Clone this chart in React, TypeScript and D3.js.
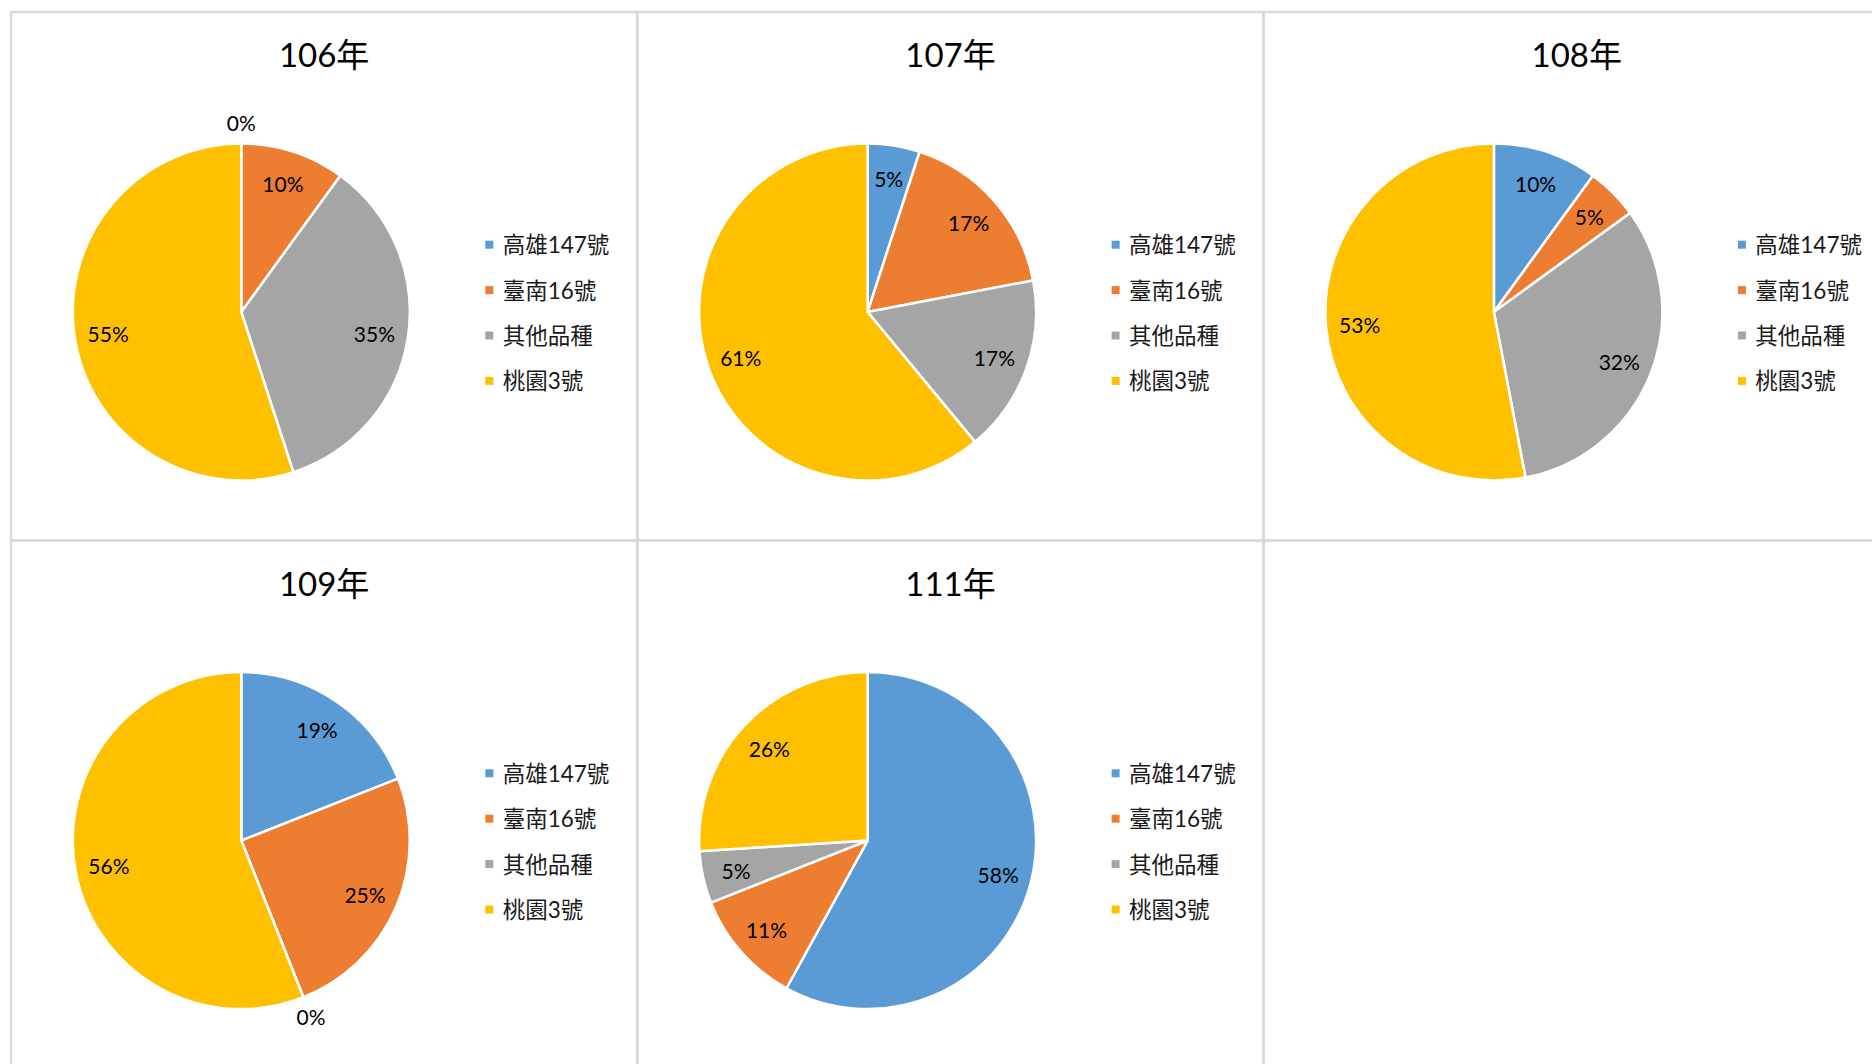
import { useEffect, useRef } from "react";
import * as d3 from "d3";

// share of each rice variety per year (%)
const YEARS = ["106年", "107年", "108年", "109年", "111年"];
const VARIETIES = ["高雄147號", "臺南16號", "其他品種", "桃園3號"];
const Y106 = [0, 10, 35, 55];
const Y107 = [5, 17, 17, 61];
const Y108 = [10, 5, 32, 53];
const Y109 = [19, 25, 0, 56];
const Y111 = [58, 11, 5, 26];
const SERIES = [Y106, Y107, Y108, Y109, Y111];

const COLORS = ["#5B9BD5", "#ED7D31", "#A5A5A5", "#FFC000"];
const W = 1872, H = 1064;
const PANEL_W = 626.3, PANEL_H = 528.6;
const X0 = 11, Y0 = 12;
const FONT = "Lato, 'Noto Sans CJK TC', sans-serif";

export default function App() {
  const svgRef = useRef<SVGSVGElement>(null);

  useEffect(() => {
    if (!svgRef.current) return;
    const svg = d3.select(svgRef.current);
    svg.selectAll("*").remove();
    svg.attr("width", W).attr("height", H);
    svg.append("rect").attr("width", W).attr("height", H).attr("fill", "#fff");

    const r = 168.5;
    const pie = d3.pie<number>().sort(null).value(d => d);
    const arc = d3.arc<d3.PieArcDatum<number>>().innerRadius(0).outerRadius(r);
    const lblArc = d3.arc<d3.PieArcDatum<number>>().innerRadius(r * 0.8).outerRadius(r * 0.8);

    // 3 columns x 2 rows, last column of row 2 empty
    for (let k = 0; k < 6; k++) {
      const col = k % 3, row = Math.floor(k / 3);
      const px = X0 + col * PANEL_W, py = Y0 + row * PANEL_H;
      svg.append("rect").attr("x", px).attr("y", py).attr("width", PANEL_W).attr("height", PANEL_H)
        .attr("fill", "none").attr("stroke", "#D9D9D9").attr("stroke-width", 2.5);
      if (k >= YEARS.length) continue;

      const g = svg.append("g").attr("transform", `translate(${px},${py})`);
      g.append("text").attr("x", PANEL_W / 2).attr("y", 55).attr("text-anchor", "middle")
        .attr("font-family", FONT).attr("font-size", "33px")
        .attr("fill", "#000").text(YEARS[k]);

      const pg = g.append("g").attr("transform", "translate(230.3,300)");
      const arcs = pie(SERIES[k]);
      pg.selectAll("path").data(arcs).join("path")
        .attr("d", arc).attr("fill", (_, i) => COLORS[i])
        .attr("stroke", "#fff").attr("stroke-width", 2.5).attr("stroke-linejoin", "round");

      pg.selectAll(".lbl").data(arcs).join("text")
        .attr("transform", d => {
          if (d.data === 0) {
            const a = d.startAngle, rr = r + 21;
            return `translate(${rr * Math.sin(a)},${-rr * Math.cos(a)})`;
          }
          return `translate(${lblArc.centroid(d)})`;
        })
        .attr("text-anchor", "middle").attr("dominant-baseline", "central")
        .attr("font-family", FONT).attr("font-size", "21px").attr("fill", "#000")
        .text(d => `${d.data}%`);

      const lg = g.append("g").attr("transform", "translate(474.3,232.7)");
      const items = lg.selectAll("g").data(VARIETIES).join("g")
        .attr("transform", (_, i) => `translate(0,${i * 45.4})`);
      items.append("rect").attr("x", 0).attr("y", -4).attr("width", 8).attr("height", 8)
        .attr("fill", (_, i) => COLORS[i]);
      items.append("text").attr("x", 17.4).attr("y", 0).attr("dominant-baseline", "central")
        .attr("font-family", FONT).attr("font-size", "22.5px")
        .attr("fill", "#1a1a1a").text(d => d);
    }
  }, []);

  return <svg ref={svgRef} style={{ position: "absolute", left: 0, top: 0, display: "block" }} />;
}
